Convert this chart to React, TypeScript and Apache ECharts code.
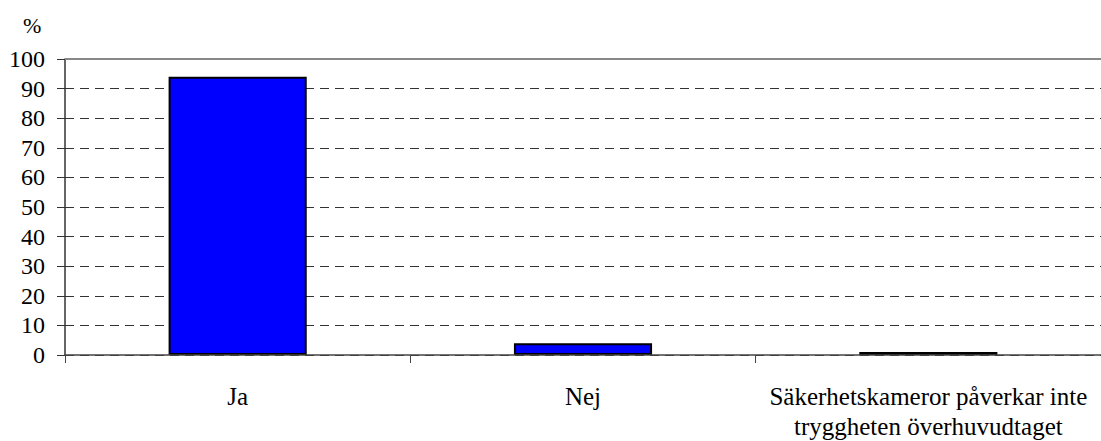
import React, { useEffect, useRef } from "react";
import * as echarts from "echarts";

const categories = ["Ja", "Nej", "Säkerhetskameror påverkar inte\ntryggheten överhuvudtaget"];
const values = [94, 4, 1];
const yTicks = { min: 0, max: 100, interval: 10 };
const unitLabel = "%";

const FONT = "Liberation Serif";

export default function App() {
  const ref = useRef<HTMLDivElement>(null);
  useEffect(() => {
    document.body.style.margin = "0";
    const chart = echarts.init(ref.current!, null, { renderer: "svg" });
    chart.setOption({
      animation: false,
      backgroundColor: "#ffffff",
      textStyle: { fontFamily: FONT, color: "#000" },
      title: {
        text: unitLabel,
        left: 18,
        top: 9,
        textStyle: { fontFamily: FONT, fontSize: 22, fontWeight: "normal", color: "#000" },
      },
      grid: { left: 65, top: 59, width: 1047, height: 299, containLabel: false },
      xAxis: {
        type: "category",
        z: 5,
        data: categories,
        axisLine: { show: true, lineStyle: { color: "#444", width: 1.5 } },
        axisTick: { show: true, length: 8, alignWithLabel: false, lineStyle: { color: "#444", width: 1 } },
        axisLabel: {
          interval: 0,
          margin: 26,
          fontFamily: FONT,
          fontSize: 25,
          color: "#000",
          lineHeight: 30,
        },
        splitLine: { show: false },
      },
      yAxis: {
        type: "value",
        min: yTicks.min,
        max: yTicks.max,
        interval: yTicks.interval,
        axisLine: { show: true, lineStyle: { color: "#333", width: 1.5 } },
        axisTick: { show: true, length: 8, lineStyle: { color: "#333", width: 1 } },
        axisLabel: { margin: 20, fontFamily: FONT, fontSize: 24, color: "#000" },
        splitLine: {
          show: true,
          lineStyle: { color: "#333", width: 1, type: [9, 6] },
        },
      },
      series: [
        {
          type: "bar",
          data: values,
          barWidth: "40%",
          itemStyle: { color: "#0000ff", borderColor: "#000", borderWidth: 2 },
          markLine: {
            silent: true,
            symbol: "none",
            label: { show: false },
            lineStyle: { color: "#888", type: "solid", width: 2 },
            data: [{ yAxis: yTicks.max }],
          },
        },
      ],
    });
    return () => chart.dispose();
  }, []);
  return <div ref={ref} style={{ width: 1101, height: 441 }} />;
}
